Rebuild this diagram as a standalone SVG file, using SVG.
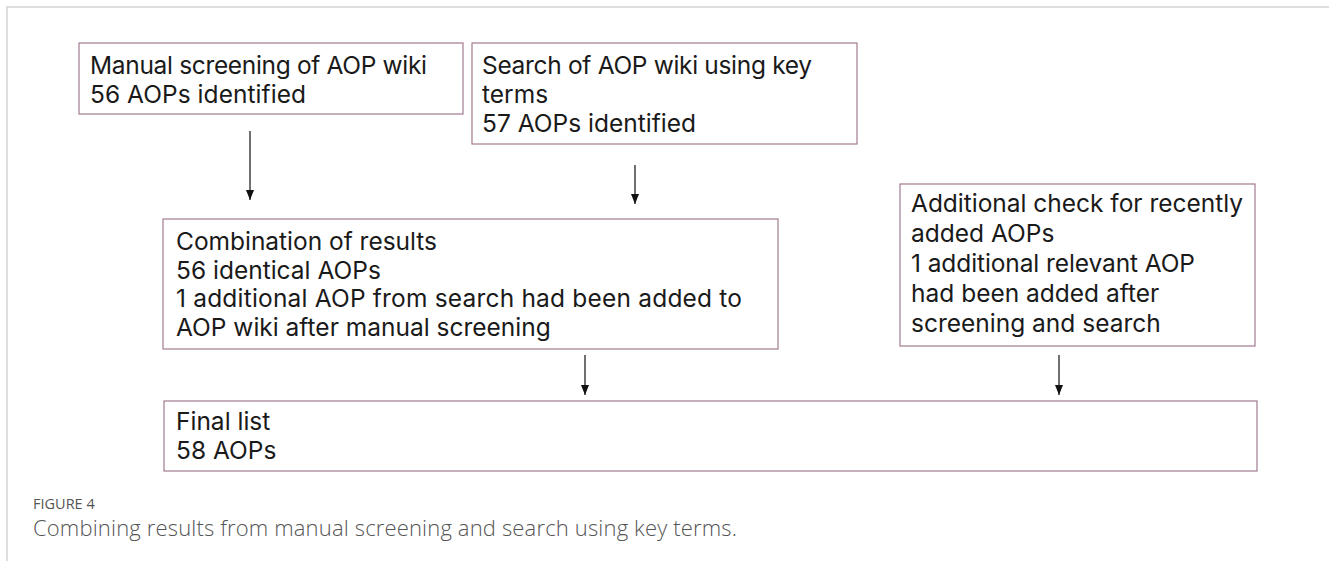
<svg xmlns="http://www.w3.org/2000/svg" width="1329" height="561" viewBox="0 0 1329 561">
  <style>
    .box { fill: #ffffff; stroke: #a27a90; stroke-width: 1.2; }
    .t { font-family: "Inter", "Liberation Sans", sans-serif; font-size: 24.5px; fill: #1a1a1a; }
    .edge { stroke: #111111; stroke-width: 1.2; fill: none; }
    .frame { stroke: #d4d4d4; stroke-width: 1.5; fill: none; }
    .cap-title { font-family: "Open Sans", "Liberation Sans", sans-serif; font-size: 14.5px; fill: #555555; }
    .cap { font-family: "Open Sans", "Liberation Sans", sans-serif; font-size: 22px; fill: #555555; font-weight: 300; }
  </style>
  <defs>
    <!-- small filled arrowhead, tip at the end of the line -->
    <marker id="arrow" viewBox="0 0 10 8" refX="10" refY="4" markerWidth="10" markerHeight="8" markerUnits="userSpaceOnUse" orient="auto">
      <path d="M0,0 L10,4 L0,8 Z" fill="#111111"/>
    </marker>
  </defs>

  <rect width="1329" height="561" fill="#ffffff"/>

  <!-- page frame -->
  <path class="frame" d="M7,561 L7,7 L1329,7"/>

  <!-- connectors -->
  <g id="connectors">
    <line class="edge" x1="250" y1="131" x2="250" y2="200" marker-end="url(#arrow)"/>
    <line class="edge" x1="635" y1="165" x2="635" y2="204" marker-end="url(#arrow)"/>
    <line class="edge" x1="585" y1="355" x2="585" y2="395" marker-end="url(#arrow)"/>
    <line class="edge" x1="1059" y1="355" x2="1059" y2="395" marker-end="url(#arrow)"/>
  </g>

  <g id="manual-screening">
    <rect class="box" x="79" y="43" width="384" height="71"/>
    <text class="t" x="90" y="74" textLength="337">Manual screening of AOP wiki</text>
    <text class="t" x="90" y="103" textLength="216">56 AOPs identified</text>
  </g>

  <g id="key-term-search">
    <rect class="box" x="472" y="43" width="385" height="101"/>
    <text class="t" x="482" y="74" textLength="330">Search of AOP wiki using key</text>
    <text class="t" x="482" y="103">terms</text>
    <text class="t" x="482" y="132" textLength="214">57 AOPs identified</text>
  </g>

  <g id="combination">
    <rect class="box" x="163" y="219" width="615" height="130"/>
    <text class="t" x="176" y="250" textLength="261">Combination of results</text>
    <text class="t" x="176" y="279">56 identical AOPs</text>
    <text class="t" x="176" y="307" textLength="566">1 additional AOP from search had been added to</text>
    <text class="t" x="176" y="336">AOP wiki after manual screening</text>
  </g>

  <g id="recent-check">
    <rect class="box" x="900" y="184" width="355" height="162"/>
    <text class="t" x="911" y="212" textLength="332">Additional check for recently</text>
    <text class="t" x="911" y="242">added AOPs</text>
    <text class="t" x="911" y="272" textLength="284">1 additional relevant AOP</text>
    <text class="t" x="911" y="302">had been added after</text>
    <text class="t" x="911" y="332">screening and search</text>
  </g>

  <g id="final-list">
    <rect class="box" x="164" y="401" width="1093" height="70"/>
    <text class="t" x="176" y="430">Final list</text>
    <text class="t" x="176" y="459">58 AOPs</text>
  </g>

  <!-- caption -->
  <text class="cap-title" x="33" y="509">FIGURE 4</text>
  <text class="cap" x="33" y="536" textLength="704">Combining results from manual screening and search using key terms.</text>
</svg>
